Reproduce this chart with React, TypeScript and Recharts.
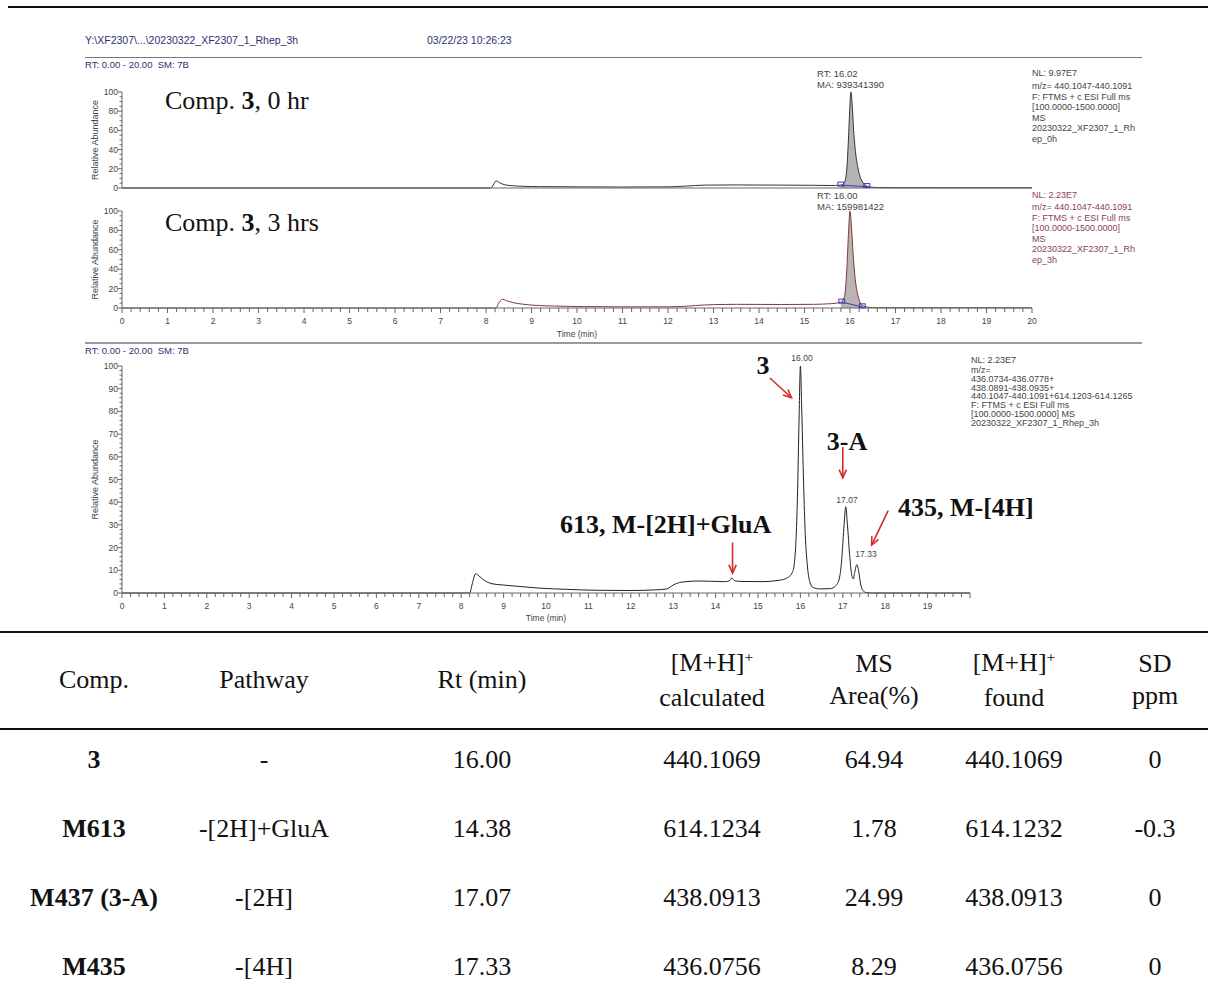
import React from 'react';
import { ComposedChart, Line, Area, XAxis, YAxis, ReferenceLine } from 'recharts';

type Pt = { t: number; y: number };
const pts = (rows: number[][]): Pt[] => rows.map(([t, y]) => ({ t, y }));

// m/z 440.1047-440.1091, 0 hr (NL 9.97E7), relative abundance %
const trace0h = pts([
  [0, 0], [8.1, 0], [8.16, 3], [8.22, 7.5], [8.3, 5.5], [8.4, 3.5], [8.55, 2.5], [8.8, 1.8],
  [9.2, 1.4], [10.0, 1.2], [11.0, 1.0], [12.0, 1.2], [12.4, 2.0], [12.8, 3.0], [13.5, 3.2],
  [14.5, 3.0], [15.2, 2.8], [15.6, 2.6], [15.8, 3.0], [15.88, 6], [15.93, 20], [15.97, 55],
  [16.0, 88], [16.02, 100], [16.05, 85], [16.08, 60], [16.12, 38], [16.17, 22], [16.22, 12],
  [16.28, 6], [16.35, 2.5], [16.45, 1], [16.6, 0.5], [17.0, 0.3], [20, 0.2],
]);
const marks0h = pts([[15.8, 3.0], [16.37, 1.5]]);

// m/z 440.1047-440.1091, 3 hrs (NL 2.23E7)
const trace3h = pts([
  [0, 0], [8.22, 0], [8.28, 5], [8.36, 9], [8.45, 7.5], [8.6, 5.5], [8.8, 4], [9.0, 3],
  [9.5, 2], [10.0, 1.5], [11.0, 1.2], [12.0, 1.2], [12.3, 1.5], [12.6, 2.5], [13.0, 3.5],
  [13.5, 3.8], [14.5, 3.6], [15.2, 3.8], [15.6, 4.5], [15.8, 6], [15.88, 12], [15.93, 40],
  [15.97, 80], [16.0, 100], [16.03, 85], [16.07, 55], [16.11, 32], [16.16, 16], [16.22, 6],
  [16.3, 2], [16.4, 0.8], [16.6, 0.3], [20, 0.2],
]);
const marks3h = pts([[15.82, 6.0], [16.27, 1.2]]);

// summed m/z 436 + 438 + 440 + 614, 3 hrs (NL 2.23E7)
const traceSum = pts([
  [0, 0], [8.2, 0], [8.26, 4], [8.34, 8.5], [8.42, 7.5], [8.55, 5.5], [8.75, 4], [9.0, 3.5],
  [9.3, 3], [9.8, 2.2], [10.5, 1.6], [11.2, 1.2], [12.0, 1.1], [12.6, 1.4], [12.85, 1.8],
  [13.0, 3.5], [13.2, 4.8], [13.6, 5.3], [14.2, 5.0], [14.32, 5.3], [14.38, 6.6], [14.45, 5.4],
  [14.6, 5.1], [15.1, 5.0], [15.5, 5.6], [15.7, 6.8], [15.82, 9.5], [15.88, 18], [15.93, 42],
  [15.97, 78], [16.0, 100], [16.03, 82], [16.07, 52], [16.11, 28], [16.16, 13], [16.22, 5],
  [16.3, 2.4], [16.45, 1.8], [16.7, 1.9], [16.85, 3.5], [16.93, 7.5], [16.98, 16], [17.03, 30],
  [17.07, 38], [17.11, 30], [17.16, 17], [17.21, 8], [17.25, 6.2], [17.28, 9], [17.33, 12.5],
  [17.37, 10], [17.42, 4], [17.47, 1.2], [17.55, 0.2], [17.7, 0], [20, 0],
]);

// arrows in panel 3: [t1, y1, t2, y2]
const arrows = [
  [15.28, 94.7, 15.79, 86],
  [17.0, 64.3, 17.0, 50.7],
  [14.4, 22.2, 14.4, 8.8],
  [18.07, 36.3, 17.68, 21.1],
];

const xTicks = Array.from({ length: 101 }, (_, i) => i / 5);
const yTicks5 = Array.from({ length: 21 }, (_, i) => i * 5);
const yTicks2 = Array.from({ length: 51 }, (_, i) => i * 2);

// table
const comps = ['3', 'M613', 'M437 (3-A)', 'M435'];
const pathways = ['-', '-[2H]+GluA', '-[2H]', '-[4H]'];
const rtMin = ['16.00', '14.38', '17.07', '17.33'];
const mhCalc = ['440.1069', '614.1234', '438.0913', '436.0756'];
const msArea = ['64.94', '1.78', '24.99', '8.29'];
const mhFound = ['440.1069', '614.1232', '438.0913', '436.0756'];
const sdPpm = ['0', '-0.3', '0', '0'];

const AXIS = '#666';
const LABEL = '#444';
const NAVY = '#2e3070';
const SERIF = '"Liberation Serif", "Times New Roman", serif';
const SANS = '"Liberation Sans", Arial, sans-serif';

const XTick = ({ x, y, payload, labelMax }: any) => {
  const v = payload.value;
  const major = Math.abs(v - Math.round(v)) < 1e-6;
  return (
    <g>
      <line x1={x} x2={x} y1={y} y2={y + (major ? 5 : 4)} stroke={AXIS} />
      {major && Math.round(v) <= labelMax && (
        <text x={x} y={y + 13} textAnchor="middle" dominantBaseline="central" fontSize={8.5} fill={LABEL}>
          {Math.round(v)}
        </text>
      )}
    </g>
  );
};

const YTick = ({ x, y, payload, step }: any) => {
  const v = payload.value;
  const major = v % step === 0;
  return (
    <g>
      <line x1={x} x2={x - (major ? 4 : 2.5)} y1={y} y2={y} stroke={AXIS} />
      {major && (
        <text x={x - 4} y={y} textAnchor="end" dominantBaseline="central" fontSize={8.5} fill={LABEL}>
          {v}
        </text>
      )}
    </g>
  );
};

const SquareDot = ({ cx, cy }: any) => (
  <rect x={cx - 3} y={cy - 3} width={6} height={4} fill="none" stroke="#3c3cb4" strokeWidth={1} />
);

const Arrow = ({ x1, y1, x2, y2 }: any) => {
  const a = Math.atan2(y2 - y1, x2 - x1);
  const h = 9;
  const w = 0.42;
  const p1 = `${x2 - h * Math.cos(a - w)},${y2 - h * Math.sin(a - w)}`;
  const p2 = `${x2 - h * Math.cos(a + w)},${y2 - h * Math.sin(a + w)}`;
  return (
    <g>
      <line x1={x1} y1={y1} x2={x2} y2={y2} stroke="#d42a2a" strokeWidth={1.6} />
      <polyline points={`${p1} ${x2},${y2} ${p2}`} fill="none" stroke="#d42a2a" strokeWidth={1.6} />
    </g>
  );
};

const yLabel = {
  value: 'Relative Abundance',
  angle: -90,
  position: 'insideLeft' as const,
  offset: 95,
  fontSize: 9,
  fill: LABEL,
  style: { textAnchor: 'middle' as const },
};

const Txt = ({ x, y, center, style, children }: any) => (
  <div
    style={{
      position: 'absolute',
      left: x,
      top: y,
      transform: center ? 'translate(-50%, -50%)' : 'translateY(-50%)',
      whiteSpace: 'nowrap',
      ...style,
    }}
  >
    {children}
  </div>
);

const Block = ({ x, y, lh, color, lines }: any) => (
  <div
    style={{
      position: 'absolute',
      left: x,
      top: y,
      fontSize: 9,
      lineHeight: `${lh}px`,
      color,
      whiteSpace: 'nowrap',
    }}
  >
    {lines.map((l: string, i: number) => (
      <div key={i}>{l}</div>
    ))}
  </div>
);

const small = { fontSize: 9.5, color: LABEL };
const big = { fontFamily: SERIF, fontSize: 26, color: '#111' };
const bigBold = { ...big, fontWeight: 'bold' };

const colX = [94, 264, 482, 712, 874, 1014, 1155];
const rowY = [760, 829, 898, 967];

const Sup = () => <span style={{ fontSize: '0.6em', position: 'relative', top: '-0.6em' }}>+</span>;

export default function App() {
  const rows = comps.map((c, i) => [c, pathways[i], rtMin[i], mhCalc[i], msArea[i], mhFound[i], sdPpm[i]]);
  const heads: any[] = [
    ['Comp.'],
    ['Pathway'],
    ['Rt (min)'],
    [<>[M+H]<Sup /></>, 'calculated'],
    ['MS', 'Area(%)'],
    [<>[M+H]<Sup /></>, 'found'],
    ['SD', 'ppm'],
  ];

  return (
    <div style={{ position: 'absolute', left: 0, top: 0, width: 1208, height: 1007, background: '#fff', fontFamily: SANS, overflow: 'hidden' }}>
      <div style={{ position: 'absolute', left: 8, top: 6, width: 1200, height: 2, background: '#111' }} />
      <Txt x={85} y={40} style={{ fontSize: 10.5, color: NAVY }}>Y:\XF2307\...\20230322_XF2307_1_Rhep_3h</Txt>
      <Txt x={427} y={40} style={{ fontSize: 10.5, color: NAVY }}>03/22/23 10:26:23</Txt>
      <div style={{ position: 'absolute', left: 85, top: 57, width: 1057, height: 1, background: '#777' }} />
      <Txt x={85} y={64} style={{ fontSize: 9.5, color: NAVY }}>RT: 0.00 - 20.00&nbsp;&nbsp;SM: 7B</Txt>

      {/* panel 1: 0 hr */}
      <div style={{ position: 'absolute', left: 0, top: 82 }}>
        <ComposedChart width={1208} height={110} margin={{ top: 10, right: 176, bottom: 0, left: 0 }}>
          <XAxis type="number" dataKey="t" domain={[0, 20]} height={4} tick={false} tickLine={false} axisLine={{ stroke: AXIS }} />
          <YAxis type="number" domain={[0, 100]} ticks={yTicks5} interval={0} width={122} tickSize={0} tickMargin={0} tickLine={false} tick={<YTick step={20} />} axisLine={{ stroke: AXIS }} label={yLabel} />
          <Area data={trace0h.filter((p) => p.t >= 15.8 && p.t <= 16.37)} dataKey="y" type="monotone" baseValue={0} fill="#b4b4b4" fillOpacity={1} stroke="none" isAnimationActive={false} />
          <Line data={marks0h} dataKey="y" type="linear" stroke="#3c3cb4" strokeWidth={1} dot={<SquareDot />} isAnimationActive={false} />
          <Line data={trace0h} dataKey="y" type="monotone" stroke="#333" strokeWidth={1} dot={false} isAnimationActive={false} />
        </ComposedChart>
      </div>
      <Txt x={165} y={101} style={big}>Comp. <b>3</b>, 0 hr</Txt>
      <Txt x={817} y={73} style={small}>RT: 16.02</Txt>
      <Txt x={817} y={84} style={small}>MA: 939341390</Txt>
      <Txt x={1032} y={73} style={{ fontSize: 9, color: LABEL }}>NL: 9.97E7</Txt>
      <Block x={1032} y={81} lh={10.5} color={LABEL} lines={['m/z= 440.1047-440.1091', 'F: FTMS + c ESI Full ms', '[100.0000-1500.0000]', 'MS', '20230322_XF2307_1_Rh', 'ep_0h']} />

      {/* panel 2: 3 hrs */}
      <div style={{ position: 'absolute', left: 0, top: 201 }}>
        <ComposedChart width={1208} height={141} margin={{ top: 10, right: 176, bottom: 0, left: 0 }}>
          <XAxis type="number" dataKey="t" domain={[0, 20]} ticks={xTicks} interval={0} height={34} tickSize={0} tickMargin={0} tickLine={false} tick={<XTick labelMax={20} />} axisLine={{ stroke: AXIS }} label={{ value: 'Time (min)', position: 'insideBottom', offset: 5, fontSize: 8.5, fill: LABEL }} />
          <YAxis type="number" domain={[0, 100]} ticks={yTicks5} interval={0} width={122} tickSize={0} tickMargin={0} tickLine={false} tick={<YTick step={20} />} axisLine={{ stroke: AXIS }} label={yLabel} />
          <Area data={trace3h.filter((p) => p.t >= 15.8 && p.t <= 16.3)} dataKey="y" type="monotone" baseValue={0} fill="#bcb3b3" fillOpacity={1} stroke="none" isAnimationActive={false} />
          <Line data={marks3h} dataKey="y" type="linear" stroke="#3c3cb4" strokeWidth={1} dot={<SquareDot />} isAnimationActive={false} />
          <Line data={trace3h} dataKey="y" type="monotone" stroke="#7d3b3b" strokeWidth={1} dot={false} isAnimationActive={false} />
        </ComposedChart>
      </div>
      <Txt x={165} y={223} style={big}>Comp. <b>3</b>, 3 hrs</Txt>
      <Txt x={817} y={195} style={small}>RT: 16.00</Txt>
      <Txt x={817} y={206} style={small}>MA: 159981422</Txt>
      <Txt x={1032} y={195} style={{ fontSize: 9, color: '#8a4252' }}>NL: 2.23E7</Txt>
      <Block x={1032} y={202} lh={10.5} color="#8a4252" lines={['m/z= 440.1047-440.1091', 'F: FTMS + c ESI Full ms', '[100.0000-1500.0000]', 'MS', '20230322_XF2307_1_Rh', 'ep_3h']} />

      <div style={{ position: 'absolute', left: 85, top: 342, width: 1057, height: 2, background: '#999' }} />
      <Txt x={85} y={350} style={{ fontSize: 9.5, color: NAVY }}>RT: 0.00 - 20.00&nbsp;&nbsp;SM: 7B</Txt>

      {/* panel 3: summed metabolite trace */}
      <div style={{ position: 'absolute', left: 0, top: 356 }}>
        <ComposedChart width={1208} height={271} margin={{ top: 10, right: 238, bottom: 0, left: 0 }}>
          <XAxis type="number" dataKey="t" domain={[0, 20]} ticks={xTicks} interval={0} height={34} tickSize={0} tickMargin={0} tickLine={false} tick={<XTick labelMax={19} />} axisLine={{ stroke: AXIS }} label={{ value: 'Time (min)', position: 'insideBottom', offset: 6, fontSize: 8.5, fill: LABEL }} />
          <YAxis type="number" domain={[0, 100]} ticks={yTicks2} interval={0} width={122} tickSize={0} tickMargin={0} tickLine={false} tick={<YTick step={10} />} axisLine={{ stroke: AXIS }} label={yLabel} />
          <Line data={traceSum} dataKey="y" type="monotone" stroke="#222" strokeWidth={1} dot={false} isAnimationActive={false} />
          {arrows.map(([t1, y1, t2, y2], i) => (
            <ReferenceLine key={i} segment={[{ x: t1, y: y1 }, { x: t2, y: y2 }]} ifOverflow="visible" shape={Arrow} />
          ))}
        </ComposedChart>
      </div>
      <Txt x={802} y={358} center style={{ fontSize: 8.5, color: LABEL }}>16.00</Txt>
      <Txt x={847} y={500} center style={{ fontSize: 8.5, color: LABEL }}>17.07</Txt>
      <Txt x={866} y={554} center style={{ fontSize: 8.5, color: LABEL }}>17.33</Txt>
      <Txt x={763} y={366} center style={bigBold}>3</Txt>
      <Txt x={847} y={442} center style={bigBold}>3-A</Txt>
      <Txt x={560} y={525} style={bigBold}>613, M-[2H]+GluA</Txt>
      <Txt x={898} y={508} style={bigBold}>435, M-[4H]</Txt>
      <Txt x={971} y={360} style={{ fontSize: 9, color: LABEL }}>NL: 2.23E7</Txt>
      <Block x={971} y={366} lh={8.8} color={LABEL} lines={['m/z=', '436.0734-436.0778+', '438.0891-438.0935+', '440.1047-440.1091+614.1203-614.1265', 'F: FTMS + c ESI Full ms', '[100.0000-1500.0000]  MS', '20230322_XF2307_1_Rhep_3h']} />

      {/* table */}
      <div style={{ position: 'absolute', left: 0, top: 631, width: 1208, height: 2, background: '#111' }} />
      <div style={{ position: 'absolute', left: 0, top: 728, width: 1208, height: 2, background: '#111' }} />
      {heads.map((h, i) => (
        <div key={i} style={{ position: 'absolute', left: colX[i], top: 680, transform: 'translate(-50%, -50%)', fontFamily: SERIF, fontSize: 26, lineHeight: '32px', textAlign: 'center', whiteSpace: 'nowrap', color: '#111' }}>
          {h.map((l: any, j: number) => (
            <div key={j}>{l}</div>
          ))}
        </div>
      ))}
      {rows.map((r, i) =>
        r.map((cell, j) => (
          <Txt key={`${i}-${j}`} x={colX[j]} y={rowY[i]} center style={{ fontFamily: SERIF, fontSize: 26, color: '#111', fontWeight: j === 0 ? 'bold' : 'normal' }}>
            {cell}
          </Txt>
        ))
      )}
    </div>
  );
}
